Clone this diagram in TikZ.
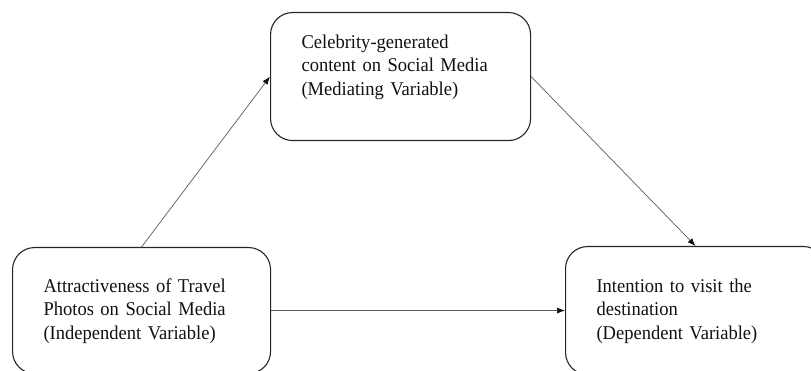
\documentclass[tikz,border=0pt]{standalone}
\usepackage{fontspec}
\setmainfont{Liberation Serif}[FakeStretch=0.95, WordSpace=0.8]
\usetikzlibrary{positioning, arrows.meta}
\definecolor{BoxLine}{HTML}{262626}
\definecolor{ArrLine}{HTML}{5A5A5A}
\definecolor{ArrTip} {HTML}{111111}
\definecolor{TxtMain}{HTML}{111111}

\begin{document}
\begin{tikzpicture}[x=1pt, y=-1pt,
    varbox/.style={draw=BoxLine, line width=1.1pt, rounded corners=22pt,
      anchor=north west, align=left, text=TxtMain,
      text width=198pt, inner xsep=31pt, inner ysep=10pt,
      font=\fontsize{19.5}{23.3}\selectfont},
    link/.style={draw=ArrLine, line width=0.7pt,
      -{Latex[length=8pt, width=6pt, color=ArrTip]}}]
  \useasboundingbox (0,0) rectangle (811,371);
  \clip (0,0) rectangle (811,371);
  % ── Box 1: mediating variable ──
  \node[varbox, text height=26pt, text depth=82pt] (med) at (270,12) {
    Celebrity-generated\\
    content on Social Media\\
    (Mediating Variable)
  };
  % ── Box 2: independent variable ──
  \node[varbox, text width=196pt, text height=35pt, text depth=71pt] (ind) at (12,247) {
    Attractiveness of Travel\\
    Photos on Social Media\\
    (Independent Variable)
  };
  % ── Box 3: dependent variable ──
  \node[varbox, text height=36pt, text depth=72pt] (dep) at (565,246) {
    Intention to visit the\\
    destination\\
    (Dependent Variable)
  };
  % ── Links ──
  \draw[link] (ind.north) -- (med.west);
  \draw[link] (med.east) -- (dep.north);
  \draw[link] (ind.east) -- (dep.west);
\end{tikzpicture}
\end{document}
